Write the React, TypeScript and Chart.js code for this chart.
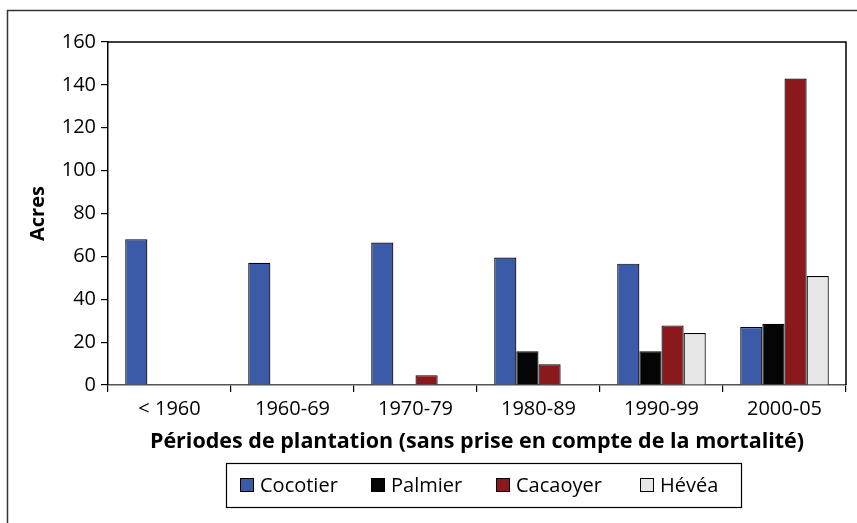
import React, { useEffect, useRef } from "react";
import { Chart, registerables } from "chart.js";

Chart.register(...registerables);

const categories = ["< 1960", "1960-69", "1970-79", "1980-89", "1990-99", "2000-05"];
const cocotier = [68, 57, 66.5, 59.5, 56.6, 27];
const palmier = [0, 0, 0, 15.8, 15.8, 28.6];
const cacaoyer = [0, 0, 4.6, 9.7, 27.8, 143];
const hevea = [0, 0, 0, 0, 24.2, 50.8];
const yTicks = [0, 20, 40, 60, 80, 100, 120, 140, 160];

const FONT = "'Open Sans', sans-serif";

const framePlugin = {
  id: "frame",
  afterDraw(chart: any) {
    const { ctx, chartArea } = chart;
    ctx.save();
    // outer border
    ctx.strokeStyle = "#333";
    ctx.lineWidth = 1.5;
    ctx.beginPath();
    ctx.moveTo(7.5, 530);
    ctx.lineTo(7.5, 10.5);
    ctx.lineTo(870, 10.5);
    ctx.stroke();
    // plot frame top/right
    ctx.strokeStyle = "#000";
    ctx.lineWidth = 1.5;
    ctx.beginPath();
    ctx.moveTo(chartArea.left, chartArea.top);
    ctx.lineTo(chartArea.right, chartArea.top);
    ctx.lineTo(chartArea.right, chartArea.bottom);
    ctx.stroke();
    // legend
    const lx = 226, ly = 463, lw = 515, lh = 44;
    ctx.strokeStyle = "#000";
    ctx.lineWidth = 1.2;
    ctx.strokeRect(lx + 0.5, ly + 0.5, lw, lh);
    const xs = [240, 371, 496, 640];
    ctx.font = `20px ${FONT}`;
    ctx.textBaseline = "middle";
    ctx.textAlign = "left";
    chart.data.datasets.forEach((ds: any, i: number) => {
      const bx = xs[i];
      const by = ly + lh / 2 - 7;
      ctx.fillStyle = ds.backgroundColor;
      ctx.fillRect(bx, by, 14, 14);
      ctx.strokeStyle = "#000";
      ctx.lineWidth = 1;
      ctx.strokeRect(bx + 0.5, by + 0.5, 13, 13);
      ctx.fillStyle = "#000";
      ctx.fillText(ds.label, bx + 20, ly + lh / 2 + 1);
    });
    ctx.restore();
  },
};

export default function App() {
  const ref = useRef<HTMLCanvasElement>(null);
  useEffect(() => {
    document.body.style.margin = "0";
    const mk = (label: string, data: number[], color: string) => ({
      label,
      data,
      backgroundColor: color,
      borderColor: "#000",
      borderWidth: 1.2,
      categoryPercentage: 0.72,
      barPercentage: 1,
    });
    const chart = new Chart(ref.current!, {
      type: "bar",
      data: {
        labels: categories,
        datasets: [
          mk("Cocotier", cocotier, "#3B5BA8"),
          mk("Palmier", palmier, "#050505"),
          mk("Cacaoyer", cacaoyer, "#8B181D"),
          mk("Hévéa", hevea, "#E6E6E6"),
        ],
      },
      options: {
        animation: false,
        responsive: false,
        layout: { padding: { top: 42, right: 11, left: 0, bottom: 0 } },
        plugins: { legend: { display: false }, tooltip: { enabled: false } },
        scales: {
          x: {
            grid: {
              drawOnChartArea: false,
              drawTicks: true,
              tickLength: 7,
              color: "#000",
              lineWidth: 1.2,
              offset: true,
            },
            border: { color: "#555", width: 1.5 },
            ticks: { color: "#000", font: { family: FONT, size: 20 }, padding: 5, maxRotation: 0 },
            title: {
              display: true,
              text: "Périodes de plantation (sans prise en compte de la mortalité)",
              color: "#000",
              font: { family: FONT, size: 21.5, weight: "bold" },
              padding: { top: 0, bottom: 68 },
            },
            afterFit: (s: any) => {
              s.height = 138;
            },
          },
          y: {
            min: 0,
            max: 160,
            afterBuildTicks: (s: any) => {
              s.ticks = yTicks.map((v) => ({ value: v }));
            },
            grid: {
              drawOnChartArea: false,
              drawTicks: true,
              tickLength: 7,
              color: "#000",
              lineWidth: 1.2,
            },
            border: { color: "#000", width: 1.5 },
            ticks: { color: "#000", font: { family: FONT, size: 20 }, padding: 5 },
            title: {
              display: true,
              text: "Acres",
              color: "#000",
              font: { family: FONT, size: 20, weight: "bold" },
              padding: { top: 26, bottom: 0 },
            },
            afterFit: (s: any) => {
              s.width = 108;
            },
          },
        },
      },
      plugins: [framePlugin],
    });
    return () => chart.destroy();
  }, []);
  return (
    <div style={{ position: "fixed", left: 0, top: 0, width: 857, height: 523, background: "#fff" }}>
      <canvas ref={ref} width={857} height={523} style={{ width: 857, height: 523 }} />
    </div>
  );
}
